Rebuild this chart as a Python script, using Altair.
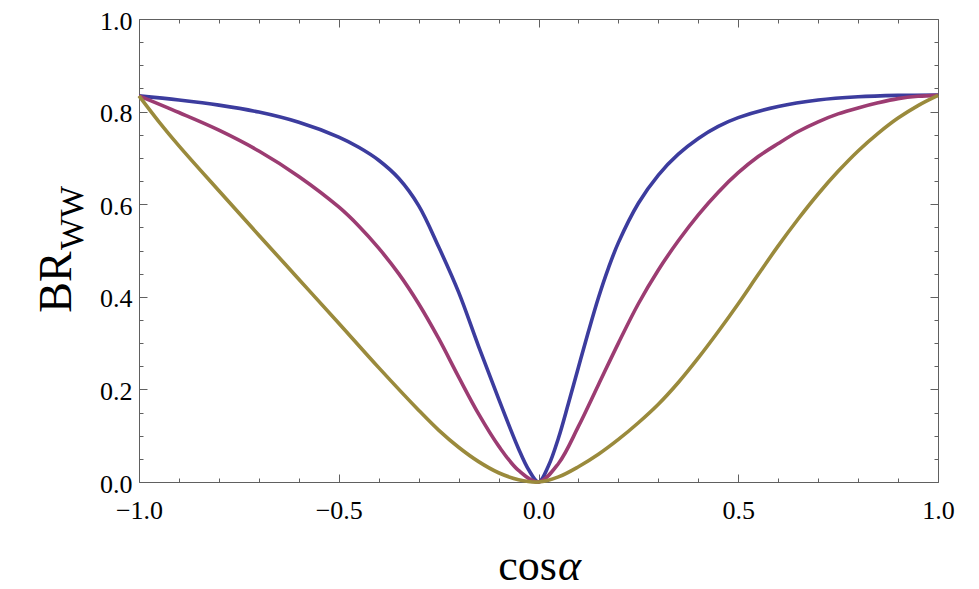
import altair as alt
import pandas as pd

# ---- data ----
series_names = ["curve 1", "curve 2", "curve 3"]
series_colors = ["#3c3c9e", "#9c3c72", "#9a8a3c"]

blue_cos = [-1.0, -0.9, -0.8, -0.7, -0.6, -0.5, -0.45, -0.4, -0.35, -0.3, -0.25, -0.2,
            -0.15, -0.1, -0.05, -0.025, 0.0,
            0.025, 0.05, 0.075, 0.1, 0.125, 0.15, 0.175, 0.2, 0.25, 0.3, 0.35, 0.4,
            0.45, 0.5, 0.6, 0.7, 0.8, 0.9, 1.0]
blue_br = [0.834, 0.825, 0.814, 0.799, 0.777, 0.745, 0.723, 0.695, 0.656, 0.597, 0.508, 0.41,
           0.293, 0.18, 0.072, 0.027, 0.0,
           0.035, 0.095, 0.17, 0.248, 0.325, 0.398, 0.462, 0.517, 0.602, 0.663, 0.708, 0.742,
           0.768, 0.787, 0.811, 0.825, 0.832, 0.835, 0.836]

purple_cos = [-1.0, -0.9, -0.8, -0.7, -0.6, -0.5, -0.45, -0.4, -0.35, -0.3, -0.25, -0.2,
              -0.15, -0.1, -0.05, 0.0,
              0.05, 0.1, 0.15, 0.2, 0.25, 0.3, 0.35, 0.4, 0.45, 0.5, 0.55, 0.6,
              0.65, 0.7, 0.75, 0.8, 0.85, 0.9, 0.95, 1.0]
purple_br = [0.834, 0.798, 0.76, 0.715, 0.66, 0.594, 0.553, 0.505, 0.45, 0.385, 0.31, 0.227,
             0.147, 0.078, 0.025, 0.0,
             0.04, 0.12, 0.21, 0.30, 0.385, 0.458, 0.521, 0.577, 0.626, 0.668, 0.703, 0.731,
             0.757, 0.778, 0.795, 0.808, 0.819, 0.828, 0.833, 0.835]

olive_cos = [-1.0, -0.95, -0.9, -0.8, -0.7, -0.6, -0.5, -0.4, -0.3, -0.25, -0.2, -0.15, -0.1,
             -0.05, 0.0,
             0.05, 0.1, 0.15, 0.2, 0.25, 0.3, 0.35, 0.4, 0.45, 0.5, 0.55, 0.6, 0.65,
             0.7, 0.75, 0.8, 0.85, 0.9, 0.95, 1.0]
olive_br = [0.834, 0.778, 0.726, 0.629, 0.533, 0.438, 0.343, 0.247, 0.155, 0.112, 0.075, 0.044,
            0.02, 0.005, 0.0,
            0.011, 0.033, 0.06, 0.092, 0.128, 0.168, 0.215, 0.268, 0.325, 0.385, 0.448, 0.51,
            0.568, 0.622, 0.671, 0.715, 0.753, 0.786, 0.813, 0.835]

x_major = [-1.0, -0.5, 0.0, 0.5, 1.0]
x_minor = [-0.9, -0.8, -0.7, -0.6, -0.4, -0.3, -0.2, -0.1, 0.1, 0.2, 0.3, 0.4, 0.6, 0.7, 0.8, 0.9]
y_major = [0.0, 0.2, 0.4, 0.6, 0.8, 1.0]
y_minor = [0.05, 0.1, 0.15, 0.25, 0.3, 0.35, 0.45, 0.5, 0.55, 0.65, 0.7, 0.75, 0.85, 0.9, 0.95]

y_title_main = "BR"
y_title_sub = "WW"
x_title_main = "cos"
x_title_greek = "α"

# ---- build table ----
rows = []
for name, cs, vs in zip(series_names,
                        [blue_cos, purple_cos, olive_cos],
                        [blue_br, purple_br, olive_br]):
    for i, (c, v) in enumerate(zip(cs, vs)):
        rows.append({"series": name, "idx": i, "cos": c, "br": v})
df = pd.DataFrame(rows)

FONT = "Liberation Serif"
GRAY = "#606060"
xs = alt.Scale(domain=[-1, 1], nice=False, zero=False)
ys = alt.Scale(domain=[0, 1], nice=False, zero=False)


def axis(orient, values, size, labels=False, **kw):
    return alt.Axis(orient=orient, values=values, tickSize=alt.ExprRef(expr=str(-size)),
                    labels=labels, domain=False, grid=False, title=None, ticks=True,
                    tickColor=GRAY, tickWidth=1, labelFont=FONT, labelFontSize=26,
                    labelColor="black", labelFlush=False, labelOverlap=False,
                    format=".1f", **kw)


lines = alt.Chart(df).mark_line(strokeWidth=3.6, interpolate="catmull-rom").encode(
    x=alt.X("cos:Q", scale=xs,
            axis=axis("bottom", x_major, 8, True, labelPadding=44,
                      labelBaseline="alphabetic")),
    y=alt.Y("br:Q", scale=ys, axis=axis("left", y_major, 8, True, labelPadding=15,
                                         labelOffset=2)),
    color=alt.Color("series:N", scale=alt.Scale(domain=series_names, range=series_colors),
                    legend=None),
    order=alt.Order("idx:Q"),
)

base = alt.Chart(df).mark_point(opacity=0)
minor_bl = base.encode(
    x=alt.X("cos:Q", scale=xs, axis=axis("bottom", x_minor, 4)),
    y=alt.Y("br:Q", scale=ys, axis=axis("left", y_minor, 4)),
)
major_tr = base.encode(
    x=alt.X("cos:Q", scale=xs, axis=axis("top", x_major, 8)),
    y=alt.Y("br:Q", scale=ys, axis=axis("right", y_major, 8)),
)
minor_tr = base.encode(
    x=alt.X("cos:Q", scale=xs, axis=axis("top", x_minor, 4)),
    y=alt.Y("br:Q", scale=ys, axis=axis("right", y_minor, 4)),
)

tdf = pd.DataFrame({"a": [y_title_main], "b": [y_title_sub],
                    "c": [x_title_main], "d": [x_title_greek]})
t_br = alt.Chart(tdf).mark_text(font=FONT, fontSize=46, angle=270, align="center",
                                baseline="alphabetic", color="black").encode(
    text="a:N", x=alt.value(-68), y=alt.value(263))
t_ww = alt.Chart(tdf).mark_text(font=FONT, fontSize=34, angle=270, align="center",
                                baseline="alphabetic", color="black").encode(
    text="b:N", x=alt.value(-56), y=alt.value(199))
t_cos = alt.Chart(tdf).mark_text(font=FONT, fontSize=44, align="right",
                                 baseline="alphabetic", color="black").encode(
    text="c:N", x=alt.value(418), y=alt.value(561))
t_alpha = alt.Chart(tdf).mark_text(font=FONT, fontSize=44, fontStyle="italic", align="left",
                                   baseline="alphabetic", color="black").encode(
    text="d:N", x=alt.value(419), y=alt.value(561))

chart = alt.layer(lines, minor_bl, major_tr, minor_tr, t_br, t_ww, t_cos, t_alpha).resolve_axis(
    x="independent", y="independent"
).properties(
    width=799, height=463,
    padding={"left": 139, "top": 19, "right": 41, "bottom": 107},
    autosize=alt.AutoSizeParams(type="none"),
    background="white",
).configure_view(stroke=GRAY, strokeWidth=1)

chart.save("out.html", embed_options={"renderer": "svg", "actions": False})
